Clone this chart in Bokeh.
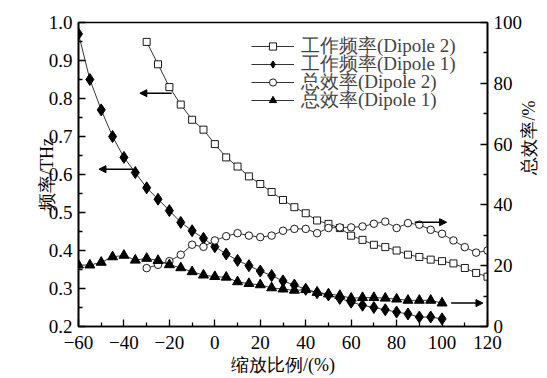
import math
from bokeh.plotting import figure
from bokeh.models import (Range1d, LinearAxis, FixedTicker, PrintfTickFormatter,
                          Arrow, NormalHead, Legend, LegendItem)
from bokeh.embed import file_html
from bokeh.resources import INLINE

# ---------------- data ----------------
scale_d1 = list(range(-60, 101, 5))
freq_d1 = [0.97, 0.85, 0.77, 0.70, 0.645, 0.605, 0.565, 0.535, 0.505, 0.474,
           0.452, 0.432, 0.41, 0.391, 0.374, 0.36, 0.346, 0.334, 0.32, 0.309,
           0.298, 0.289, 0.283, 0.274, 0.264, 0.256, 0.25, 0.244, 0.238, 0.233,
           0.225, 0.225, 0.22]
eff_d1 = [20.2, 20.2, 21.1, 22.9, 23.4, 21.8, 22.4, 21.7, 20.3, 19.3,
          18.0, 16.9, 16.4, 16.2, 14.7, 14.1, 13.7, 12.7, 12.3, 11.9,
          12.1, 11.2, 10.7, 10.2, 9.3, 9.5, 9.5, 9.3, 9.0, 8.6,
          8.6, 8.6, 7.7]

scale_d2 = list(range(-30, 121, 5))
freq_d2 = [0.949, 0.89, 0.83, 0.784, 0.744, 0.718, 0.68, 0.645, 0.621, 0.595,
           0.575, 0.554, 0.533, 0.514, 0.498, 0.479, 0.470, 0.459, 0.439, 0.428,
           0.415, 0.409, 0.40, 0.389, 0.383, 0.376, 0.372, 0.366, 0.354, 0.341,
           0.331]
eff_d2 = [19.2, 20.3, 21.5, 23.6, 26.9, 26.2, 28.3, 29.7, 30.7, 29.9,
          29.4, 29.9, 31.5, 32.1, 32.1, 30.7, 32.4, 32.6, 32.6, 32.9,
          33.8, 34.5, 32.4, 34.0, 33.5, 31.8, 30.5, 28.3, 26.1, 24.3,
          25.0]

labels = ["工作频率(Dipole 2)", "工作频率(Dipole 1)", "总效率(Dipole 2)", "总效率(Dipole 1)"]
x_ticks = [-60, -40, -20, 0, 20, 40, 60, 80, 100, 120]
x_minor = [-50, -30, -10, 10, 30, 50, 70, 90, 110]
f_ticks = [0.2, 0.3, 0.4, 0.5, 0.6, 0.7, 0.8, 0.9, 1.0]
f_minor = [0.25, 0.35, 0.45, 0.55, 0.65, 0.75, 0.85, 0.95]
e_ticks = [0, 20, 40, 60, 80, 100]
e_minor = [10, 30, 50, 70, 90]

# arrows: (x_start, x_end, y, axis)
arrows = [(-19, -33, 0.814, "default"),
          (-36, -51, 0.614, "default"),
          (88, 102, 34.3, "eff"),
          (104, 118, 7.7, "eff")]

FONT = "Liberation Serif"

p = figure(frame_width=409, frame_height=304,
           x_range=Range1d(-60, 120), y_range=Range1d(0.2, 1.0),
           output_backend="svg", toolbar_location=None,
           min_border_left=78, min_border_right=52,
           min_border_top=22, min_border_bottom=48)
p.extra_y_ranges = {"eff": Range1d(0, 100)}
p.grid.visible = False
p.outline_line_color = "black"
p.outline_line_width = 1.6

eff_axis = LinearAxis(y_range_name="eff")
p.add_layout(eff_axis, "right")

p.xaxis.ticker = FixedTicker(ticks=x_ticks, minor_ticks=x_minor)
p.yaxis[0].ticker = FixedTicker(ticks=f_ticks, minor_ticks=f_minor)
p.yaxis[0].formatter = PrintfTickFormatter(format="%.1f")
eff_axis.ticker = FixedTicker(ticks=e_ticks, minor_ticks=e_minor)

p.xaxis.axis_label = "缩放比例/(%)"
p.yaxis[0].axis_label = "频率/THz"
eff_axis.axis_label = "总效率/%"
eff_axis.axis_label_orientation = math.pi / 2

for ax in [p.xaxis[0], p.yaxis[0], eff_axis]:
    ax.axis_line_color = "black"
    ax.axis_line_width = 1.6
    ax.major_tick_in = 7
    ax.major_tick_out = 0
    ax.minor_tick_in = 4
    ax.minor_tick_out = 0
    ax.major_tick_line_width = 1.3
    ax.minor_tick_line_width = 1.3
    ax.major_label_text_font = FONT
    ax.major_label_text_font_size = "19px"
    ax.major_label_text_color = "black"
    ax.axis_label_text_font = FONT
    ax.axis_label_text_font_size = "18px"
    ax.axis_label_text_font_style = "normal"
    ax.axis_label_text_color = "black"
    ax.major_label_standoff = 6
    ax.axis_label_standoff = 4
p.xaxis[0].major_label_standoff = 9
p.xaxis[0].axis_label_standoff = 3
p.yaxis[0].axis_label_standoff = -11

# ---------------- series ----------------
l_f2 = p.line(scale_d2, freq_d2, line_color="black", line_width=0.8)
s_f2 = p.scatter(scale_d2, freq_d2, marker="square", size=7, fill_color="white",
                 line_color="black", line_width=0.9)
l_f1 = p.line(scale_d1, freq_d1, line_color="black", line_width=0.8)
s_f1 = p.scatter(scale_d1, freq_d1, marker="diamond", size=12,
                 fill_color="black", line_color="black")
l_e2 = p.line(scale_d2, eff_d2, line_color="black", line_width=0.8, y_range_name="eff")
s_e2 = p.scatter(scale_d2, eff_d2, marker="circle", size=7.5, fill_color="white",
                 line_color="black", line_width=0.9, y_range_name="eff")
l_e1 = p.line(scale_d1, eff_d1, line_color="black", line_width=0.8, y_range_name="eff")
s_e1 = p.scatter(scale_d1, eff_d1, marker="triangle", size=10, fill_color="black",
                 line_color="black", y_range_name="eff")

for xs, xe, yv, rn in arrows:
    p.add_layout(Arrow(end=NormalHead(size=7, fill_color="black", line_color="black"),
                       x_start=xs, y_start=yv, x_end=xe, y_end=yv,
                       line_color="black", line_width=1.5,
                       y_range_name=rn))

# one legend per row so the rows sit as close together as in the reference
legend_rows = [(labels[0], [l_f2, s_f2]), (labels[1], [l_f1, s_f1]),
               (labels[2], [l_e2, s_e2]), (labels[3], [l_e1, s_e1])]
row_bottoms = [267, 249, 231, 213]
for (lab, rends), vy in zip(legend_rows, row_bottoms):
    lg = Legend(items=[LegendItem(label=lab, renderers=rends)], location=(173, vy))
    lg.label_text_font = FONT
    lg.label_text_font_size = "19px"
    lg.glyph_width = 43
    lg.glyph_height = 18
    lg.label_height = 18
    lg.padding = 0
    lg.margin = 0
    lg.label_standoff = 7
    lg.border_line_alpha = 0
    lg.background_fill_alpha = 0
    p.add_layout(lg)

open("out.html", "w").write(file_html(p, INLINE))
